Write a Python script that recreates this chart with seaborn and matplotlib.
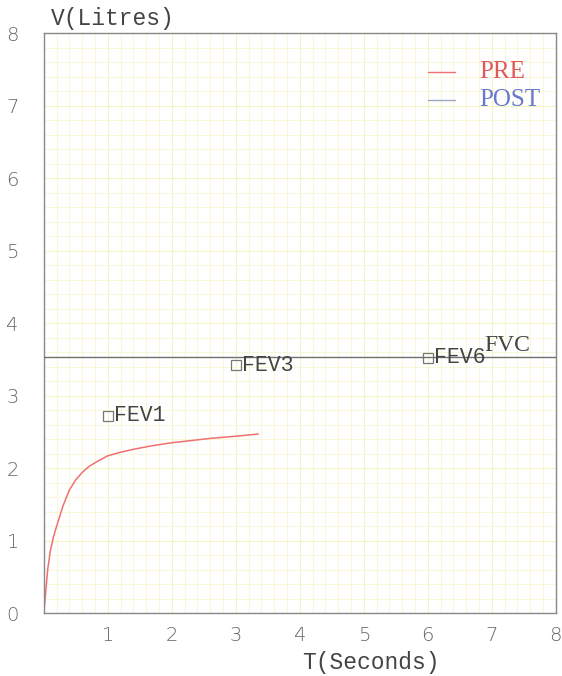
import matplotlib
matplotlib.use("Agg")
from matplotlib import pyplot as plt
import seaborn as sns
import numpy as np
import pandas as pd

# PRE curve (volume vs time)
pre_t = [0.0, 0.03, 0.06, 0.1, 0.15, 0.2, 0.3, 0.4, 0.5, 0.6, 0.7, 0.85, 1.0, 1.2, 1.4, 1.7, 2.0, 2.3, 2.6, 3.0, 3.35]
pre_v = [0.0, 0.3, 0.6, 0.85, 1.05, 1.2, 1.48, 1.7, 1.84, 1.94, 2.02, 2.1, 2.17, 2.22, 2.26, 2.31, 2.35, 2.38, 2.41, 2.44, 2.47]

fvc_value = 3.53
fev_names = ["FEV1", "FEV3", "FEV6"]
fev_t = [1.0, 3.0, 6.0]
fev_v = [2.72, 3.42, 3.52]

x_ticks = [1, 2, 3, 4, 5, 6, 7, 8]
y_ticks = [0, 1, 2, 3, 4, 5, 6, 7, 8]

sns.set_style("white")
mono = ["Liberation Mono", "DejaVu Sans Mono"]

fig = plt.figure(figsize=(5.62, 6.76), dpi=100)
ax = fig.add_axes([0.078, 0.093, 0.911, 0.858])

df = pd.DataFrame({"t": pre_t, "v": pre_v})
sns.lineplot(data=df, x="t", y="v", ax=ax, color="#f07070", lw=1.1, sort=False)

# FVC line
ax.axhline(fvc_value, color="#707070", lw=1.0, zorder=3)
ax.text(6.88, 3.55, "FVC", family="Liberation Serif", fontsize=17,
        color="#444444", va="bottom")

# FEV markers
ax.plot(fev_t, fev_v, ls="none", marker="s", ms=7, mfc="none", mec="#777777", mew=0.9, zorder=4)
for name, t, v in zip(fev_names, fev_t, fev_v):
    ax.text(t + 0.1, v, name, family=mono, fontsize=15.5, color="#444444", va="center")

# legend
ax.plot([6.0, 6.42], [7.46, 7.46], color="#f07070", lw=1.0)
ax.plot([6.0, 6.42], [7.08, 7.08], color="#a0a8c0", lw=1.0)
ax.text(6.8, 7.46, "PRE", family="Liberation Serif", fontsize=18, color="#e05858", va="center")
ax.text(6.8, 7.08, "POST", family="Liberation Serif", fontsize=18, color="#6878d0", va="center")

ax.set_xlim(0, 8)
ax.set_ylim(0, 8)
ax.set_xticks(x_ticks)
ax.set_yticks(y_ticks)
ax.set_xticks(np.arange(0, 8.01, 0.2), minor=True)
ax.set_yticks(np.arange(0, 8.01, 0.2), minor=True)
ax.grid(which="minor", color="#f8f8d8", lw=0.7)
ax.grid(which="major", color="#f3f3c4", lw=0.8)
ax.set_axisbelow(True)
ax.set_facecolor("white")

ax.tick_params(axis="both", which="major", direction="inout", length=12, width=0.9,
               color="#777777", labelcolor="#666666", labelsize=14)
ax.tick_params(axis="y", which="major", pad=12)
ax.tick_params(axis="both", which="minor", length=0)
for lbl in ax.get_xticklabels() + ax.get_yticklabels():
    lbl.set_family("DejaVu Sans")
    lbl.set_fontweight("light")
for s in ax.spines.values():
    s.set_color("#888888")
    s.set_linewidth(1.0)

ax.set_xlabel("")
ax.set_ylabel("")
fig.text(0.09, 0.972, "V(Litres)", family=mono, fontsize=16.5, color="#444444", va="center")
fig.text(0.66, 0.02, "T(Seconds)", family=mono, fontsize=16.5, color="#444444", ha="center", va="center")

fig.savefig("out.png", dpi=100)
